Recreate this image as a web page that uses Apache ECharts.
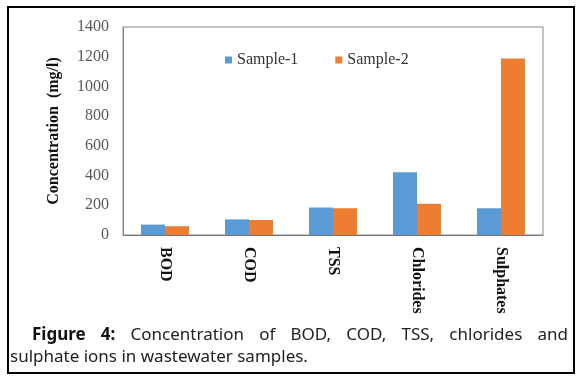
<!DOCTYPE html>
<html>
<head>
<meta charset="utf-8">
<script src="https://cdn.jsdelivr.net/npm/echarts@6/dist/echarts.min.js"></script>
<style>
  html, body { margin: 0; padding: 0; background: #fff; }
  #wrap { position: relative; width: 584px; height: 379px; overflow: hidden; }
  #chart { position: absolute; left: 0; top: 0; width: 584px; height: 379px; }
  #frame { position: absolute; left: 7px; top: 6px; width: 564px; height: 364px; border: 2.5px solid #000; pointer-events: none; }
  .cap { position: absolute; font-family: "Noto Sans", "Liberation Sans", sans-serif; font-size: 17px; line-height: 22px; color: #222; white-space: nowrap; }
  #cap1 { left: 32px; top: 323px; width: 536px; text-align: justify; text-align-last: justify; white-space: normal; }
  #cap2 { left: 10px; top: 345px; }
  .cap b { color: #111; }
</style>
</head>
<body>
<div id="wrap">
  <div id="chart"></div>
  <div id="frame"></div>
  <div class="cap" id="cap1"><b>Figure 4:</b> Concentration of BOD, COD, TSS, chlorides and</div>
  <div class="cap" id="cap2">sulphate ions in wastewater samples.</div>
</div>
<script>
const categories = ["BOD", "COD", "TSS", "Chlorides", "Sulphates"];
const sample1 = [70, 105, 185, 423, 180];
const sample2 = [59, 101, 180, 210, 1188];
const seriesNames = ["Sample-1", "Sample-2"];
const yTicks = { min: 0, max: 1400, interval: 200 };

const serif = "'Liberation Serif', 'DejaVu Serif', serif";
const chart = echarts.init(document.getElementById('chart'), null, { renderer: 'canvas' });
chart.setOption({
  animation: false,
  backgroundColor: '#fff',
  grid: { left: 123, right: 41, top: 27, bottom: 144, show: true, borderColor: '#888', borderWidth: 1, containLabel: false },
  legend: {
    data: seriesNames,
    left: 220, top: 47,
    icon: 'rect', itemWidth: 7, itemHeight: 7, itemGap: 37,
    textStyle: { fontFamily: serif, fontSize: 16, color: '#333' }
  },
  xAxis: {
    type: 'category', data: categories,
    axisLine: { show: true, lineStyle: { color: '#777', width: 1 } },
    axisTick: { show: false },
    axisLabel: { rotate: -90, margin: 12, fontFamily: serif, fontWeight: 'bold', fontSize: 16, color: '#111' }
  },
  yAxis: {
    type: 'value', min: yTicks.min, max: yTicks.max, interval: yTicks.interval,
    name: 'Concentration  (mg/l)', nameLocation: 'middle', nameGap: 61,
    nameTextStyle: { fontFamily: serif, fontWeight: 'bold', fontSize: 16, color: '#111' },
    axisLine: { show: true, lineStyle: { color: '#888' } },
    axisTick: { show: false },
    splitLine: { show: false },
    axisLabel: { margin: 14, fontFamily: serif, fontSize: 16, color: '#595959', formatter: v => String(v) }
  },
  series: [
    { name: seriesNames[0], type: 'bar', data: sample1, barWidth: 24, barGap: '0%', itemStyle: { color: '#5B9BD5' } },
    { name: seriesNames[1], type: 'bar', data: sample2, barWidth: 24, barGap: '0%', itemStyle: { color: '#ED7D31' } }
  ]
});
</script>
</body>
</html>
